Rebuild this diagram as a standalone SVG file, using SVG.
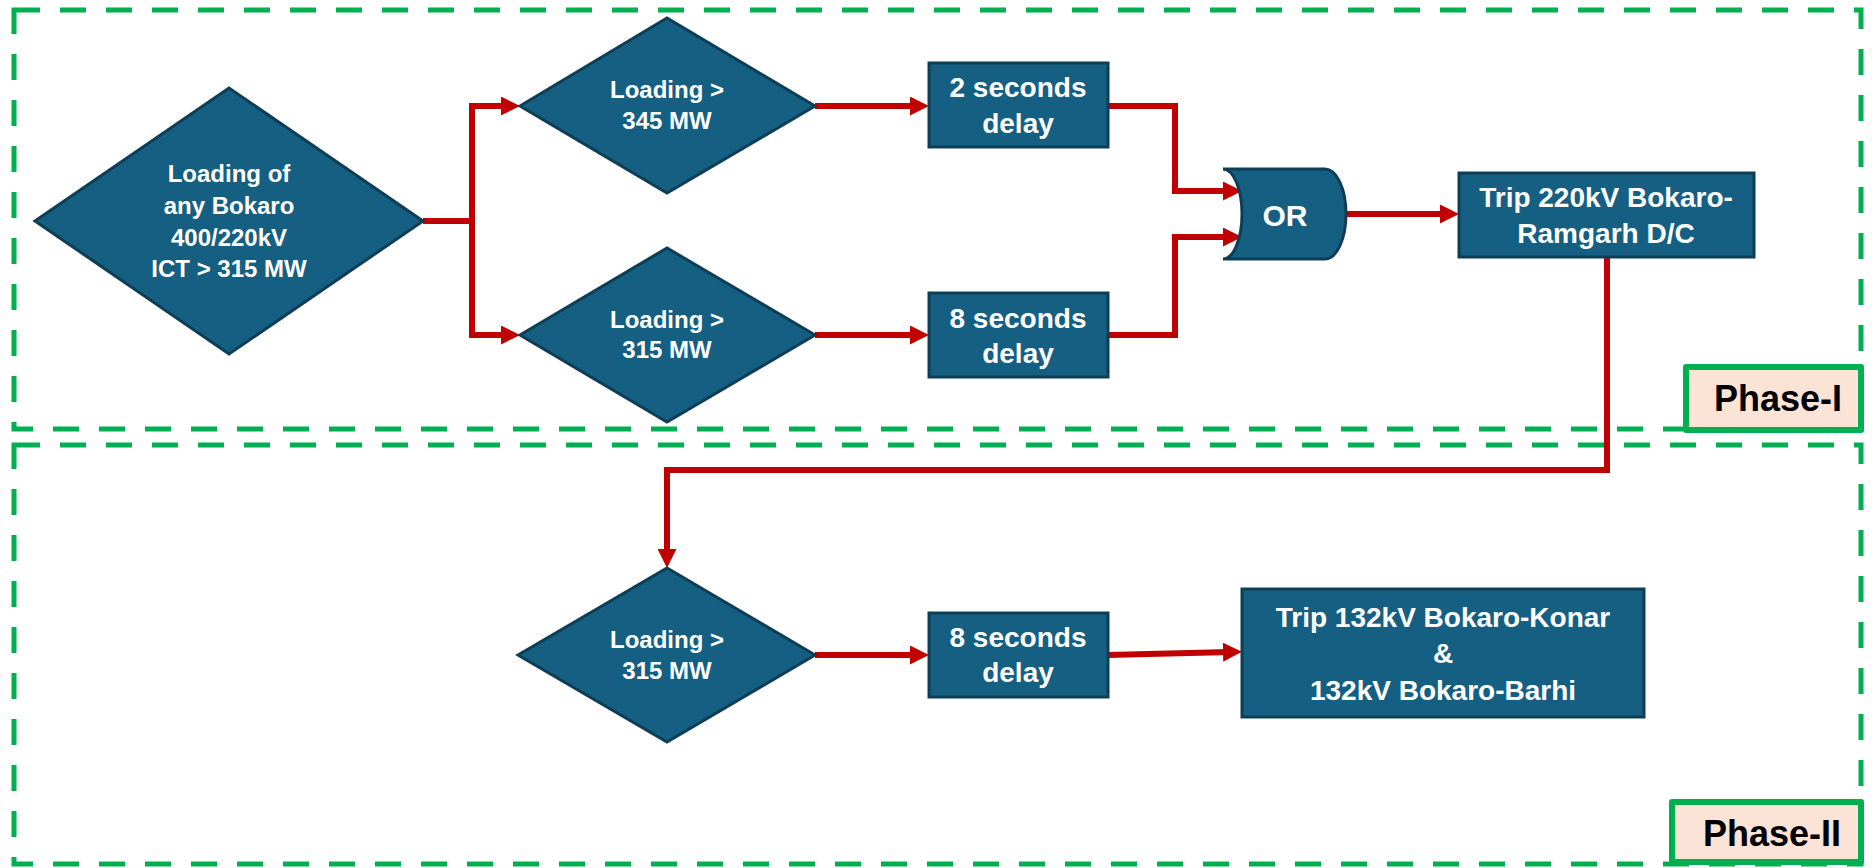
<svg xmlns="http://www.w3.org/2000/svg" width="1874" height="868" viewBox="0 0 1874 868">
  <style>
    .zone { fill: none; stroke: #00B050; stroke-width: 5; stroke-dasharray: 26 20; }
    .node { fill: #156082; stroke: #0D3E56; stroke-width: 3; }
    .lbl { fill: #FFFFFF; font-family: "Liberation Sans", Arial, sans-serif; font-weight: bold; text-anchor: middle; }
    .conn { fill: none; stroke: #C00000; stroke-width: 6; stroke-linejoin: miter; }
    .tag { fill: #FBE3D6; stroke: #00B050; stroke-width: 6; stroke-linejoin: round; }
    .tagtxt { fill: #000000; font-family: "Liberation Sans", Arial, sans-serif; font-weight: bold; font-size: 36px; text-anchor: middle; }
  </style>
  <defs>
    <marker id="arr" markerUnits="userSpaceOnUse" markerWidth="19" markerHeight="19" refX="7" refY="9.5" orient="auto">
      <path d="M0,0 L19,9.5 L0,19 Z" fill="#C00000"/>
    </marker>
  </defs>

  <rect width="1874" height="868" fill="#FFFFFF"/>

  <g id="zones">
    <rect class="zone" x="14" y="10" width="1847" height="419"/>
    <rect class="zone" x="14" y="445" width="1847" height="419"/>
  </g>

  <g id="connectors">
    <path class="conn" d="M423,221 H472 V106 H508" marker-end="url(#arr)"/>
    <path class="conn" d="M472,221 V335 H508" marker-end="url(#arr)"/>
    <path class="conn" d="M815,106 H917" marker-end="url(#arr)"/>
    <path class="conn" d="M815,335 H917" marker-end="url(#arr)"/>
    <path class="conn" d="M1108,106 H1175 V191 H1230" marker-end="url(#arr)"/>
    <path class="conn" d="M1108,335 H1175 V237 H1230" marker-end="url(#arr)"/>
    <path class="conn" d="M1346,214 H1447" marker-end="url(#arr)"/>
    <path class="conn" d="M1607,257 V470 H667 V556" marker-end="url(#arr)"/>
    <path class="conn" d="M815,655 H917" marker-end="url(#arr)"/>
    <path class="conn" d="M1108,655 L1230,652" marker-end="url(#arr)"/>
  </g>

  <g id="n_start">
    <polygon class="node" points="35,221 229,88 423,221 229,354"/>
    <text class="lbl" font-size="24" x="229" y="182">Loading of</text>
    <text class="lbl" font-size="24" x="229" y="214">any Bokaro</text>
    <text class="lbl" font-size="24" x="229" y="246">400/220kV</text>
    <text class="lbl" font-size="24" x="229" y="277">ICT &gt; 315 MW</text>
  </g>

  <g id="n_load345">
    <polygon class="node" points="520,106 667,18 815,106 667,193"/>
    <text class="lbl" font-size="24" x="667" y="98">Loading &gt;</text>
    <text class="lbl" font-size="24" x="667" y="129">345 MW</text>
  </g>

  <g id="n_load315a">
    <polygon class="node" points="520,335 667,248 815,335 667,422"/>
    <text class="lbl" font-size="24" x="667" y="328">Loading &gt;</text>
    <text class="lbl" font-size="24" x="667" y="358">315 MW</text>
  </g>

  <g id="n_delay2">
    <rect class="node" x="929" y="63" width="179" height="84"/>
    <text class="lbl" font-size="28" x="1018" y="97">2 seconds</text>
    <text class="lbl" font-size="28" x="1018" y="133">delay</text>
  </g>

  <g id="n_delay8a">
    <rect class="node" x="929" y="293" width="179" height="84"/>
    <text class="lbl" font-size="28" x="1018" y="328">8 seconds</text>
    <text class="lbl" font-size="28" x="1018" y="363">delay</text>
  </g>

  <g id="n_or">
    <path class="node" d="M1223,169 L1325,169 A21,45 0 0 1 1325,259 L1223,259 A19,45 0 0 0 1223,169 Z"/>
    <text class="lbl" font-size="30" x="1285" y="226">OR</text>
  </g>

  <g id="n_trip220">
    <rect class="node" x="1459" y="173" width="295" height="84"/>
    <text class="lbl" font-size="28" x="1606" y="207">Trip 220kV Bokaro-</text>
    <text class="lbl" font-size="28" x="1606" y="243">Ramgarh D/C</text>
  </g>

  <g id="n_load315b">
    <polygon class="node" points="518,655 667,568 815,655 667,742"/>
    <text class="lbl" font-size="24" x="667" y="648">Loading &gt;</text>
    <text class="lbl" font-size="24" x="667" y="679">315 MW</text>
  </g>

  <g id="n_delay8b">
    <rect class="node" x="929" y="613" width="179" height="84"/>
    <text class="lbl" font-size="28" x="1018" y="647">8 seconds</text>
    <text class="lbl" font-size="28" x="1018" y="682">delay</text>
  </g>

  <g id="n_trip132">
    <rect class="node" x="1242" y="589" width="402" height="128"/>
    <text class="lbl" font-size="28" x="1443" y="627">Trip 132kV Bokaro-Konar</text>
    <text class="lbl" font-size="28" x="1443" y="663">&amp;</text>
    <text class="lbl" font-size="28" x="1443" y="700">132kV Bokaro-Barhi</text>
  </g>

  <g id="tag_phase1">
    <rect class="tag" x="1686" y="367" width="175" height="63"/>
    <text class="tagtxt" x="1778" y="411">Phase-I</text>
  </g>

  <g id="tag_phase2">
    <rect class="tag" x="1672" y="802" width="189" height="60"/>
    <text class="tagtxt" x="1772" y="846">Phase-II</text>
  </g>
</svg>
